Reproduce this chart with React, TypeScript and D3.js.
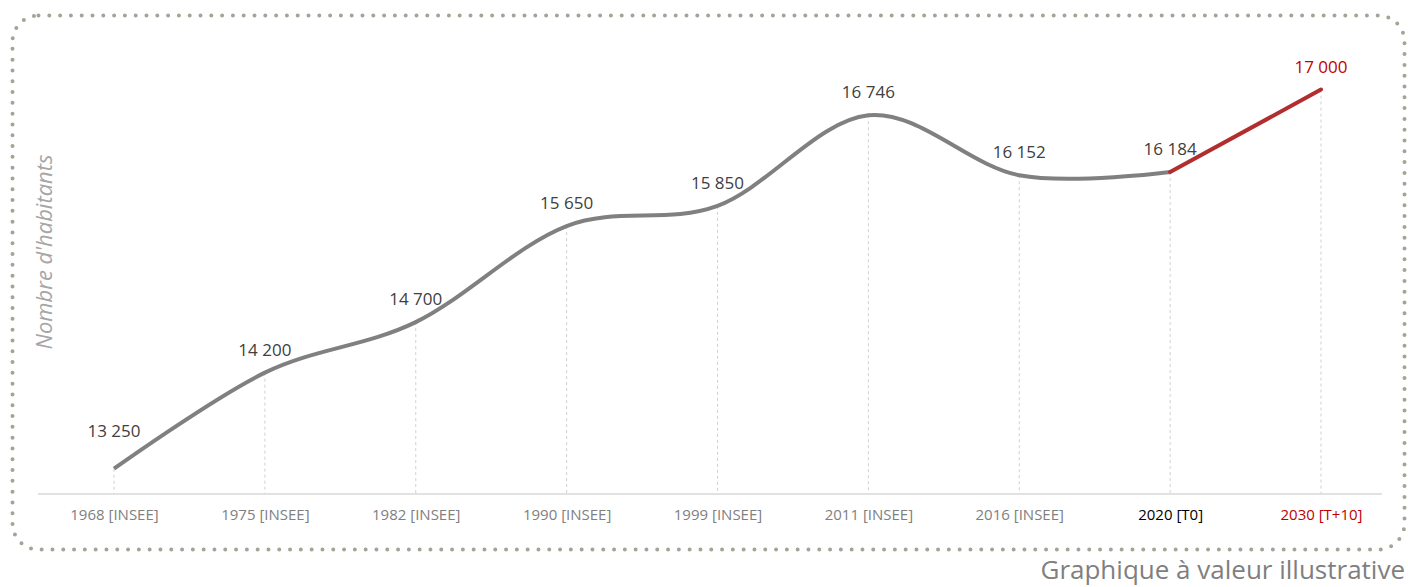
import React, { useEffect, useRef } from 'react';
import * as d3 from 'd3';

// Population figures (labels on the x axis are census / projection years)
const categories = [
  '1968 [INSEE]',
  '1975 [INSEE]',
  '1982 [INSEE]',
  '1990 [INSEE]',
  '1999 [INSEE]',
  '2011 [INSEE]',
  '2016 [INSEE]',
  '2020 [T0]',
  '2030 [T+10]',
];
const population = [13250, 14200, 14700, 15650, 15850, 16746, 16152, 16184, 17000];
const yDomain = [13000, 17500];

const yTitle = "Nombre d'habitants";
const footnote = 'Graphique à valeur illustrative';

export default function App() {
  const svgRef = useRef<SVGSVGElement>(null);

  useEffect(() => {
    const W = 1408;
    const H = 587;
    const svg = d3.select(svgRef.current).attr('width', W).attr('height', H);
    svg.selectAll('*').remove();

    const font = "'Open Sans', sans-serif";
    const grey = '#808080';
    const red = '#B22D2D';
    const darkRed = '#C00000';
    const axisY = 494;

    // dotted rounded frame
    svg.append('rect')
      .attr('x', 12.5)
      .attr('y', 15.5)
      .attr('width', 1392)
      .attr('height', 534)
      .attr('rx', 26)
      .attr('fill', 'none')
      .attr('stroke', '#a4a496')
      .attr('stroke-width', 4)
      .attr('stroke-linecap', 'round')
      .attr('stroke-dasharray', '0 10.8');

    const x = d3.scalePoint<string>()
      .domain(categories)
      .range([114, 1321]);

    const y = d3.scaleLinear()
      .domain(yDomain)
      .range([axisY, 39]);

    const data = categories.map((c, i) => ({ cat: c, value: population[i] }));
    const n = data.length;

    // drop lines from each point to the axis
    svg.append('g')
      .selectAll('line')
      .data(data)
      .enter()
      .append('line')
      .attr('x1', d => x(d.cat)!)
      .attr('x2', d => x(d.cat)!)
      .attr('y1', d => y(d.value))
      .attr('y2', axisY)
      .attr('stroke', '#d0d0d0')
      .attr('stroke-width', 1)
      .attr('stroke-dasharray', '3 3');

    // axis baseline
    svg.append('line')
      .attr('x1', 38)
      .attr('x2', 1382)
      .attr('y1', axisY)
      .attr('y2', axisY)
      .attr('stroke', '#d9d9d9')
      .attr('stroke-width', 1.5);

    // x axis labels
    const xAxis = svg.append('g')
      .attr('transform', `translate(0,${axisY})`)
      .call(d3.axisBottom(x).tickSize(0).tickPadding(15));
    xAxis.select('.domain').remove();
    xAxis.selectAll('text')
      .style('font-family', font)
      .style('font-size', '15px')
      .attr('fill', (d, i) => (i === n - 1 ? darkRed : i === n - 2 ? '#000' : grey));

    // smoothed history line, then the projection as a straight red segment
    const line = d3.line<{ cat: string; value: number }>()
      .x(d => x(d.cat)!)
      .y(d => y(d.value))
      .curve(d3.curveCatmullRom.alpha(0));

    svg.append('path')
      .datum(data.slice(0, n - 1))
      .attr('d', line)
      .attr('fill', 'none')
      .attr('stroke', grey)
      .attr('stroke-width', 4);

    svg.append('path')
      .datum(data.slice(n - 2))
      .attr('d', line)
      .attr('fill', 'none')
      .attr('stroke', red)
      .attr('stroke-width', 4)
      .attr('stroke-linecap', 'round');

    // value labels
    const fmt = d3.formatLocale({ decimal: ',', thousands: ' ', grouping: [3], currency: ['', ' €'] }).format(',');
    svg.append('g')
      .selectAll('text')
      .data(data)
      .enter()
      .append('text')
      .attr('x', d => x(d.cat)!)
      .attr('y', (d, i) => y(d.value) - (i === 0 ? 32 : 17))
      .attr('text-anchor', 'middle')
      .style('font-family', font)
      .style('font-size', '17px')
      .attr('fill', (d, i) => (i === n - 1 ? darkRed : '#404040'))
      .text(d => fmt(d.value));

    // y title
    svg.append('text')
      .attr('transform', `translate(52,252)rotate(-90)`)
      .attr('text-anchor', 'middle')
      .style('font-family', font)
      .style('font-size', '22px')
      .style('font-style', 'italic')
      .attr('fill', '#a6a6a6')
      .text(yTitle);

    // footnote
    svg.append('text')
      .attr('x', 1405)
      .attr('y', 579)
      .attr('text-anchor', 'end')
      .style('font-family', font)
      .style('font-size', '26px')
      .attr('fill', '#7f7f7f')
      .text(footnote);
  }, []);

  return (
    <svg ref={svgRef} style={{ position: 'absolute', left: 0, top: 0, display: 'block' }}></svg>
  );
}
